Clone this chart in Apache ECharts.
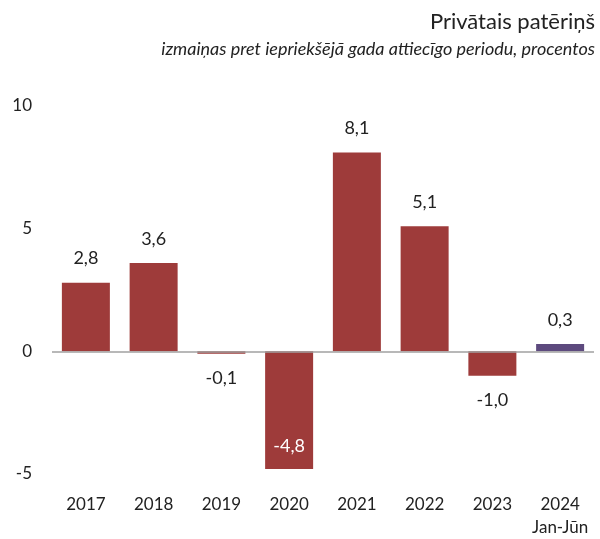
<!DOCTYPE html>
<html>
<head>
<meta charset="utf-8">
<script src="https://cdn.jsdelivr.net/npm/echarts@6/dist/echarts.min.js"></script>
<style>
  html, body { margin: 0; padding: 0; background: #fff; }
  #chart { width: 600px; height: 539px; }
</style>
</head>
<body>
<div id="chart"></div>
<script>
// dati
var categories = ['2017', '2018', '2019', '2020', '2021', '2022', '2023', '2024\nJan-Jūn']
var values = [2.8, 3.6, -0.1, -4.8, 8.1, 5.1, -1.0, 0.3]
var yTicks = [-5, 0, 5, 10]

var RED = '#9e3b3a'
var PURPLE = '#5d4a7e'
var FONT = 'Lato, "Noto Sans", sans-serif'

function fmt (v) {
  return v.toFixed(1).replace('.', ',')
}

var seriesData = values.map(function (v, i) {
  var last = i === values.length - 1
  var label = { position: v >= 0 ? 'top' : 'bottom' }
  // lielais negatīvais stabiņš - etiķete iekšā, balta
  if (v < -3) {
    label = { position: 'insideBottom', color: '#fff', distance: 14 }
  }
  return {
    value: v,
    itemStyle: { color: last ? PURPLE : RED },
    label: label
  }
})

var myChart = echarts.init(document.getElementById('chart'))
myChart.setOption({
  animation: false,
  textStyle: { fontFamily: FONT },
  // divi virsraksti, lai abi būtu izlīdzināti pa labi
  title: [
    {
      text: 'Privātais patēriņš',
      right: 0,
      top: 6,
      textStyle: { fontSize: 22, fontWeight: 'normal', color: '#222', fontFamily: FONT }
    },
    {
      text: 'izmaiņas pret iepriekšējā gada attiecīgo periodu, procentos',
      right: 0,
      top: 35,
      textStyle: { fontSize: 18, fontWeight: 'normal', fontStyle: 'italic', color: '#222', fontFamily: FONT }
    }
  ],
  grid: { left: 52, right: 6, top: 106, bottom: 62 },
  xAxis: {
    type: 'category',
    data: categories,
    axisLine: { show: false },
    axisTick: { show: false },
    axisLabel: {
      color: '#222',
      fontSize: 17,
      margin: 19,
      lineHeight: 23,
      interval: 0
    }
  },
  yAxis: {
    type: 'value',
    min: yTicks[0],
    max: yTicks[yTicks.length - 1],
    interval: 5,
    splitLine: { show: false },
    axisLine: { show: false },
    axisTick: { show: false },
    axisLabel: { color: '#222', fontSize: 17, margin: 20 }
  },
  series: [{
    type: 'bar',
    data: seriesData,
    barWidth: 48,
    label: {
      show: true,
      fontSize: 18,
      color: '#222',
      distance: 15,
      formatter: function (p) { return fmt(p.value) }
    },
    markLine: {
      silent: true,
      symbol: 'none',
      label: { show: false },
      lineStyle: { color: '#a0a0a0', width: 1.5, type: 'solid' },
      data: [{ yAxis: 0 }]
    }
  }]
})
</script>
</body>
</html>
